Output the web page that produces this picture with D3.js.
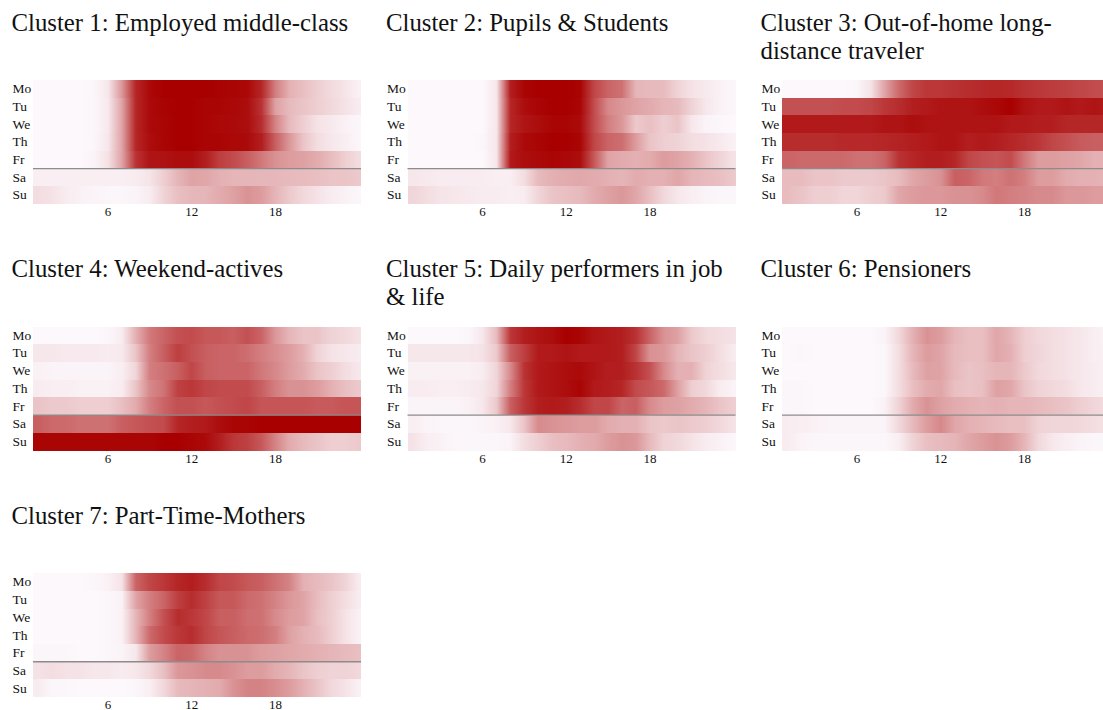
<!DOCTYPE html>
<html lang="en">
<head>
<meta charset="UTF-8">
<title>Activity clusters</title>
<script src="https://d3js.org/d3.v7.min.js"></script>
<style>
    html, body { margin: 0; padding: 0; background: #fff; overflow: hidden; }
    svg { display: block; }
    text { font-family: "Liberation Serif", "Times New Roman", serif; fill: #111; }
    .title { font-size: 24.8px; }
    .axis text { font-size: 13px; }
    .axis.days text { font-size: 13.5px; }
    .axis path, .axis line { display: none; }
</style>
</head>
<body>
<svg id="chart" width="1103" height="710"></svg>
<script>
const days = ["Mo", "Tu", "We", "Th", "Fr", "Sa", "Su"];
const hours = d3.range(1, 25);
const hourTicks = [6, 12, 18];

const titles = [
    ["Cluster 1: Employed middle-class"],
    ["Cluster 2: Pupils & Students"],
    ["Cluster 3: Out-of-home long-", "distance traveler"],
    ["Cluster 4: Weekend-actives"],
    ["Cluster 5: Daily performers in job", "& life"],
    ["Cluster 6: Pensioners"],
    ["Cluster 7: Part-Time-Mothers"]
];

// activity per hour, one row per weekday (0-100)
const cluster1 = [
    [1,1,1,1,2,8,40,85,97,100,100,100,100,99,98,97,85,50,30,24,18,13,9,4],
    [1,1,1,1,2,7,35,85,96,99,100,100,98,98,97,95,80,36,26,22,18,14,10,6],
    [1,1,1,1,2,7,35,85,96,98,100,100,98,97,96,95,82,48,26,18,10,7,4,2],
    [1,1,1,1,2,8,35,85,95,98,100,100,98,98,97,96,88,62,40,22,12,8,5,2],
    [1,1,1,1,3,10,35,80,92,93,95,95,88,75,70,62,52,42,38,36,32,25,18,12],
    [5,5,5,5,5,5,5,6,9,18,28,35,34,30,28,28,27,27,26,25,24,22,22,20],
    [12,10,6,4,3,2,2,3,6,16,24,27,28,32,36,42,38,28,20,14,10,6,4,2]
];
const cluster2 = [
    [1,1,1,1,1,1,8,88,98,100,100,100,99,72,60,55,28,26,25,16,10,7,4,2],
    [1,1,1,1,1,1,8,85,95,98,100,100,98,70,46,40,35,32,28,26,16,8,4,2],
    [1,1,1,1,1,1,8,85,92,95,98,98,96,70,50,40,20,24,18,22,8,3,2,1],
    [1,1,1,1,1,2,8,88,96,98,100,100,98,72,60,56,38,22,18,16,12,10,7,4],
    [1,1,1,1,1,1,8,90,95,96,98,97,95,65,35,32,30,32,38,35,30,22,16,10],
    [8,7,6,6,6,6,5,5,12,26,30,32,33,32,30,28,32,30,30,34,28,26,24,20],
    [15,12,9,8,7,6,6,5,6,15,22,24,26,32,36,40,34,24,14,8,5,3,2,2]
];
const cluster3 = [
    [1,1,1,1,1,2,10,35,58,72,78,78,80,82,84,85,84,80,78,76,74,72,70,68],
    [68,68,68,68,70,70,72,78,82,88,90,92,92,92,95,97,100,93,90,90,92,90,92,90],
    [90,90,90,90,90,90,90,92,92,95,93,92,92,92,92,93,90,90,88,88,85,85,85,85],
    [82,82,82,82,84,84,84,85,86,88,90,92,92,88,90,88,85,82,78,72,68,64,62,62],
    [60,58,58,58,58,55,55,60,80,85,88,88,85,72,68,66,70,52,38,38,36,34,30,30],
    [25,25,22,22,20,20,20,22,25,34,38,42,62,60,52,50,55,50,38,38,32,30,30,28],
    [25,22,18,18,15,15,18,20,34,38,40,40,42,42,45,52,50,48,45,45,40,40,38,38]
];
const cluster4 = [
    [1,1,1,1,1,2,6,30,52,60,68,70,65,65,62,68,60,40,28,22,22,16,14,10],
    [8,8,7,7,7,6,7,22,50,62,75,68,62,60,60,56,50,44,38,30,16,10,8,6],
    [4,3,3,3,3,3,5,15,50,55,62,72,62,60,60,60,52,46,38,32,22,18,12,8],
    [6,5,5,4,4,4,6,22,46,54,74,78,72,70,70,70,62,50,42,42,38,30,24,20],
    [22,20,20,18,18,18,24,32,50,60,68,68,65,68,70,72,66,66,66,66,64,64,66,66],
    [62,58,58,55,55,55,62,65,68,70,85,88,90,95,98,98,100,100,100,100,100,100,100,100],
    [98,98,98,98,98,98,98,98,98,100,100,98,96,88,78,74,65,48,32,26,22,18,18,20]
];
const cluster5 = [
    [1,1,1,1,2,8,25,78,88,92,95,100,98,92,90,88,80,60,42,36,20,14,12,10],
    [8,8,8,8,8,10,20,62,75,90,90,92,90,90,90,88,72,42,40,28,22,18,12,6],
    [4,4,4,4,4,6,15,45,80,90,92,95,96,92,88,88,80,68,45,30,30,16,12,8],
    [6,6,5,5,6,8,15,50,78,90,92,95,98,90,88,85,70,65,58,36,18,14,6,3],
    [3,3,3,3,4,8,20,62,78,88,90,88,82,72,72,60,62,45,38,36,32,28,22,18],
    [5,3,2,2,2,3,4,8,22,45,42,40,38,38,32,30,30,22,20,22,20,18,14,10],
    [10,5,4,2,2,2,2,3,12,18,24,26,30,32,38,42,40,26,16,14,10,6,4,2]
];
const cluster6 = [
    [1,1,1,1,1,1,1,3,14,30,42,38,28,24,24,34,28,18,14,12,10,8,5,3],
    [1,2,1,1,1,1,1,2,12,28,38,35,26,24,24,34,30,18,15,12,10,8,5,4],
    [1,1,1,1,1,1,1,2,12,26,36,35,26,22,24,28,28,20,14,12,10,8,6,4],
    [2,2,1,1,1,1,1,2,12,24,32,34,24,22,24,36,34,22,16,14,12,8,6,4],
    [2,2,1,1,1,1,1,4,16,32,42,36,32,30,28,30,28,28,26,24,22,18,15,12],
    [6,5,4,3,3,3,3,3,14,26,38,46,34,30,28,26,24,24,16,15,15,14,12,10],
    [6,3,2,2,2,2,2,2,5,16,24,26,28,34,38,42,38,28,14,8,5,3,2,2]
];
const cluster7 = [
    [1,1,1,1,2,4,10,60,72,78,85,88,82,72,70,65,62,55,48,30,26,22,16,6],
    [1,1,1,1,1,2,4,35,50,60,75,82,74,65,65,58,55,48,40,35,25,18,12,6],
    [1,1,1,1,1,2,4,28,50,68,82,78,72,62,62,56,55,45,38,35,24,18,10,4],
    [1,1,1,1,1,2,4,28,58,70,78,82,72,66,62,58,56,50,36,30,26,18,10,4],
    [2,2,2,1,1,2,3,8,38,48,60,58,48,42,42,42,38,36,34,32,30,28,26,24],
    [10,12,10,10,8,8,6,8,14,24,40,42,45,45,42,38,38,32,28,22,18,16,16,14],
    [6,2,2,1,1,1,1,2,5,14,26,28,30,32,42,48,48,44,38,30,22,14,10,4]
];
const clusters = [cluster1, cluster2, cluster3, cluster4, cluster5, cluster6, cluster7];

const panelWidth = 328, panelHeight = 124;
const colStep = 374.5, rowStep = 246.6;
const left = 33, top0 = 80;

// the hour grid is a bit wider than the panel: ticks sit 13.95px apart
const x = d3.scaleBand().domain(hours).range([-1.7, 333.1]);
const y = d3.scaleBand().domain(days).range([0, panelHeight]);
const color = d3.scaleLinear().domain([0, 100]).range(["#fdfbff", "#a80000"]);

const svg = d3.select("#chart");
const defs = svg.append("defs");

clusters.forEach((rows, k) => {
    const col = k % 3, row = Math.floor(k / 3);
    const px = left + col * colStep, py = top0 + row * rowStep;
    const g = svg.append("g").attr("transform", `translate(${px},${py})`);

    g.selectAll("text.title")
        .data(titles[k])
        .enter()
        .append("text")
        .attr("class", "title")
        .attr("x", -21.5)
        .attr("y", (_, i) => -49.5 + i * 28)
        .text(d => d);

    // each row is a smooth ramp between its hourly values, like the resampled source heatmap
    rows.forEach((values, r) => {
        const gradId = `grad${k}_${r}`;
        defs.append("linearGradient")
            .attr("id", gradId)
            .attr("gradientUnits", "userSpaceOnUse")
            .attr("x1", 0)
            .attr("x2", panelWidth)
            .attr("y1", 0)
            .attr("y2", 0)
            .selectAll("stop")
            .data(values)
            .enter()
            .append("stop")
            .attr("offset", (_, i) => Math.max(0, (x(hours[i]) + x.bandwidth() / 2) / panelWidth))
            .attr("stop-color", d => color(d));

        g.append("rect")
            .attr("x", 0)
            .attr("y", y(days[r]))
            .attr("width", panelWidth)
            .attr("height", y.bandwidth())
            .attr("shape-rendering", "crispEdges")
            .attr("fill", `url(#${gradId})`);
    });

    // weekday / weekend divider
    g.append("line")
        .attr("x1", 0)
        .attr("x2", panelWidth)
        .attr("y1", y("Sa"))
        .attr("y2", y("Sa"))
        .attr("stroke", "#8c8c8c")
        .attr("stroke-width", 1.3);

    g.append("g")
        .attr("class", "axis days")
        .call(d3.axisLeft(y).tickSize(0).tickPadding(0))
        .selectAll("text")
        .attr("text-anchor", "start")
        .attr("x", -20.5);

    g.append("g")
        .attr("class", "axis")
        .attr("transform", `translate(0,${panelHeight})`)
        .call(d3.axisBottom(x).tickValues(hourTicks).tickSize(0).tickPadding(3));
});
</script>
</body>
</html>
